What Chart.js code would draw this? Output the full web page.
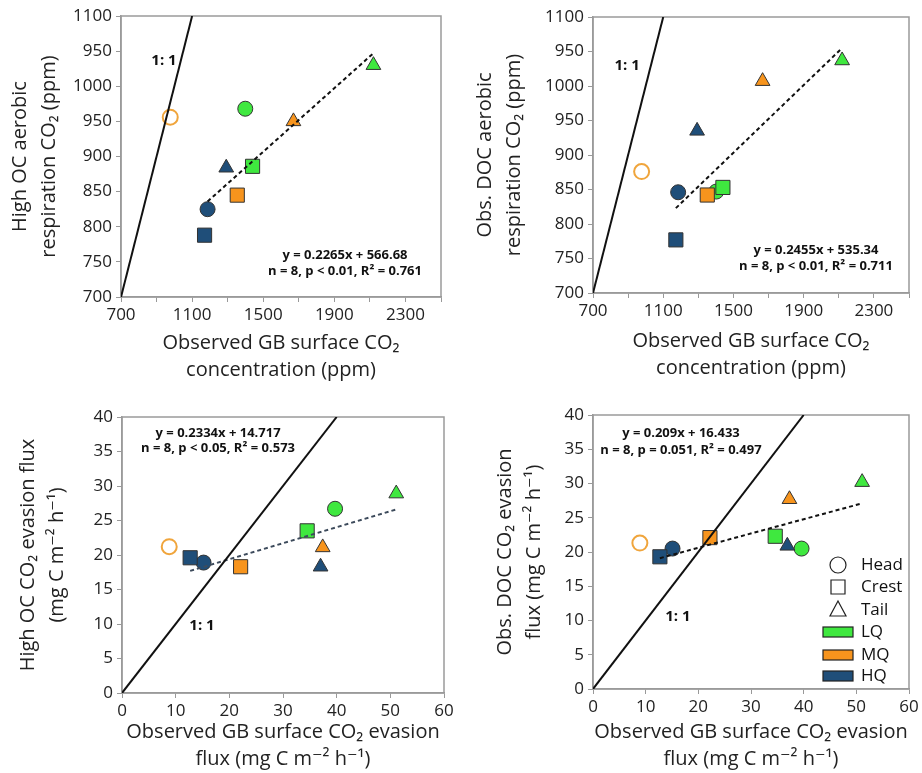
<!DOCTYPE html>
<html>
<head>
<meta charset="utf-8">
<script src="https://cdn.jsdelivr.net/npm/chart.js@4.4.0/dist/chart.umd.min.js"></script>
<style>
  html, body { margin: 0; padding: 0; background: #fff; }
  #wrap { position: relative; width: 922px; height: 773px; }
  #wrap canvas { position: absolute; }
</style>
</head>
<body>
<div id="wrap">
  <canvas id="cA" width="461" height="388" style="left:0;top:0"></canvas>
  <canvas id="cB" width="461" height="388" style="left:461px;top:0"></canvas>
  <canvas id="cC" width="461" height="385" style="left:0;top:388px"></canvas>
  <canvas id="cD" width="461" height="385" style="left:461px;top:388px"></canvas>
</div>
<script>
// orden de puntos: LQ Head, LQ Crest, LQ Tail, MQ Head, MQ Crest, MQ Tail, HQ Head, HQ Crest, HQ Tail
const siteNames = ['Head', 'Crest', 'Tail'];
const qualityNames = ['LQ', 'MQ', 'HQ'];
const pointSite = [0, 1, 2, 0, 1, 2, 0, 1, 2];
const pointQuality = [0, 0, 0, 1, 1, 1, 2, 2, 2];
const openPoint = 3; // MQ Head, fuera de la regresion

// observado GB superficie CO2 (ppm) vs High OC
const concObsA = [1399, 1440, 2120, 977, 1354, 1670, 1187, 1170, 1292];
const concHighOC = [968, 886, 1030, 956, 845, 950, 825, 788, 884];
// observado vs Obs. DOC
const concObsB = [1402, 1440, 2119, 977, 1351, 1666, 1185, 1172, 1293];
const concObsDOC = [847, 853, 1037, 876, 842, 1007, 846, 777, 935];
// flujos (mg C m-2 h-1)
const fluxObsC = [39.7, 34.5, 51.1, 8.8, 22.1, 37.4, 15.2, 12.7, 37.0];
const fluxHighOC = [26.7, 23.5, 28.9, 21.2, 18.3, 21.1, 18.9, 19.6, 18.3];
const fluxObsD = [39.6, 34.6, 51.1, 8.9, 22.2, 37.3, 15.1, 12.7, 36.9];
const fluxObsDOC = [20.5, 22.3, 30.2, 21.3, 22.1, 27.7, 20.5, 19.3, 20.9];

// rectas de ajuste (extremos)
const trendA = { x: [1187, 2120], y: [836, 1047] };
const trendB = { x: [1172, 2119], y: [823, 1055] };
const trendC = { x: [12.7, 51.1], y: [17.7, 26.6] };
const trendD = { x: [12.7, 51.1], y: [19.1, 27.1] };
const oneToOneConc = [700, 1100];
const oneToOneFlux = [0, 40];

// etiquetas de ejes
const concXLabels = ['700', '', '1100', '', '1500', '', '1900', '', '2300', ''];
const concYLabels = ['700', '750', '800', '850', '900', '950', '1000', '950', '1100'];
const fluxXLabels = ['0', '10', '20', '30', '40', '50', '60'];
const fluxYLabels = ['0', '5', '10', '15', '20', '25', '30', '35', '40'];

const eqA = ['y = 0.2265x + 566.68', 'n = 8, p < 0.01, R\u00b2 = 0.761'];
const eqB = ['y = 0.2455x + 535.34', 'n = 8, p < 0.01, R\u00b2 = 0.711'];
const eqC = ['y = 0.2334x + 14.717', 'n = 8, p < 0.05, R\u00b2 = 0.573'];
const eqD = ['y = 0.209x + 16.433', 'n = 8, p = 0.051, R\u00b2 = 0.497'];

const qColors = ['#3fe83f', '#f7941d', '#1f4e79'];
const FONT = '"Open Sans", "DejaVu Sans", sans-serif';
Chart.defaults.font.family = FONT;
Chart.defaults.color = '#222';

const extras = {
    id: 'extras',
    beforeDatasetsDraw(chart) {
        const { ctx, chartArea: a } = chart;
        ctx.save();
        ctx.strokeStyle = '#9a9a9a';
        ctx.lineWidth = 1.5;
        ctx.strokeRect(a.left, a.top, a.right - a.left, a.bottom - a.top);
        ctx.restore();
    },
    afterDraw(chart, args, o) {
        const { ctx, chartArea: a, scales: { x, y } } = chart;
        ctx.save();
        ctx.fillStyle = '#111';
        ctx.textAlign = 'center';
        ctx.textBaseline = 'middle';
        ctx.font = 'bold 13px ' + FONT;
        o.eq.forEach((t, i) => ctx.fillText(t, x.getPixelForValue(o.eqX), y.getPixelForValue(o.eqY[i])));
        ctx.font = 'bold 15px ' + FONT;
        ctx.fillText('1: 1', x.getPixelForValue(o.oneAt[0]), y.getPixelForValue(o.oneAt[1]));
        if (o.legend) {
            const sx = a.right - 71, tx = a.right - 48;
            const rows = [124, 102, 79, 57, 34, 13].map(d => a.bottom - d);
            ctx.textAlign = 'left';
            ctx.font = '17px ' + FONT;
            ctx.strokeStyle = '#222';
            ctx.lineWidth = 1.2;
            siteNames.forEach((n, i) => {
                const cy = rows[i];
                ctx.beginPath();
                if (i === 0) ctx.arc(sx, cy, 8, 0, Math.PI * 2);
                else if (i === 1) ctx.rect(sx - 7, cy - 7, 14, 14);
                else { ctx.moveTo(sx, cy - 9); ctx.lineTo(sx + 8, cy + 6); ctx.lineTo(sx - 8, cy + 6); ctx.closePath(); }
                ctx.stroke();
                ctx.fillText(n, tx, cy);
            });
            qualityNames.forEach((n, i) => {
                const cy = rows[3 + i];
                ctx.fillStyle = qColors[i];
                ctx.fillRect(sx - 15, cy - 5, 30, 10);
                ctx.strokeRect(sx - 15, cy - 5, 30, 10);
                ctx.fillStyle = '#111';
                ctx.fillText(n, tx, cy);
            });
        }
        ctx.restore();
    }
};

function makePanel(id, p) {
    const pts = p.xs.map((x, i) => ({ x, y: p.ys[i] }));
    const shapes = pointSite.map(s => ['circle', 'rect', 'triangle'][s]);
    const radii = pointSite.map(s => [7.5, 10, 8.5][s]);
    const fills = pointQuality.map((q, i) => i === openPoint ? 'rgba(255,255,255,0)' : qColors[q]);
    const borders = pointQuality.map((q, i) => i === openPoint ? '#f0a53c' : '#333');
    const bw = pointQuality.map((q, i) => i === openPoint ? 2 : 1);
    const tickFont = { size: 17 };
    new Chart(document.getElementById(id), {
        type: 'scatter',
        data: {
            datasets: [
                {
                    data: p.one.map(v => ({ x: v, y: v })), showLine: true, pointRadius: 0,
                    borderColor: '#111', borderWidth: 2, order: 0
                },
                {
                    data: p.trend.x.map((v, i) => ({ x: v, y: p.trend.y[i] })), showLine: true, pointRadius: 0,
                    borderColor: p.trendColor, borderWidth: 2, borderDash: [4, 3], order: 0
                },
                {
                    data: pts, pointStyle: shapes, pointRadius: radii, pointHoverRadius: radii,
                    backgroundColor: fills, borderColor: borders, borderWidth: bw, order: 1
                }
            ]
        },
        options: {
            responsive: false,
            animation: false,
            layout: { padding: { left: 0, top: p.g.padTop, right: p.g.padRight, bottom: 0 } },
            plugins: {
                legend: { display: false }, tooltip: { enabled: false },
                extras: { eq: p.eq, eqX: p.eqX, eqY: p.eqY, oneAt: p.oneAt, legend: !!p.legend }
            },
            scales: {
                x: {
                    type: 'linear', min: p.xMin, max: p.xMax,
                    ticks: { stepSize: p.xStep, autoSkip: false, maxRotation: 0, font: tickFont, color: '#222', padding: 3, callback: (v, i) => p.xLabels[i] },
                    grid: { drawOnChartArea: false, drawTicks: true, tickLength: 5, color: '#999' },
                    border: { color: '#9a9a9a', width: 1.5 },
                    title: { display: true, text: p.xTitle, color: '#222', font: { size: 20, lineHeight: 1.35 }, padding: { top: 0, bottom: p.g.xTitlePad } },
                    afterFit: s => { s.height = p.g.xH; }
                },
                y: {
                    type: 'linear', min: p.yMin, max: p.yMax,
                    ticks: { stepSize: p.yStep, autoSkip: false, font: tickFont, color: '#222', padding: 4, callback: (v, i) => p.yLabels[i] },
                    grid: { drawOnChartArea: false, drawTicks: true, tickLength: 5, color: '#999' },
                    border: { color: '#9a9a9a', width: 1.5 },
                    title: { display: true, text: p.yTitle, color: '#222', font: { size: 20, lineHeight: 1.45 }, padding: { top: p.g.yTitlePad, bottom: 0 } },
                    afterFit: s => { s.width = p.g.yW; }
                }
            }
        },
        plugins: [extras]
    });
}

const concAxis = { xMin: 700, xMax: 2500, xStep: 200, yMin: 700, yMax: 1100, yStep: 50, xLabels: concXLabels, yLabels: concYLabels, one: oneToOneConc, xTitle: ['Observed GB surface CO\u2082', 'concentration (ppm)'] };
const fluxAxis = { xMin: 0, xMax: 60, xStep: 10, yMin: 0, yMax: 40, yStep: 5, xLabels: fluxXLabels, yLabels: fluxYLabels, one: oneToOneFlux, xTitle: ['Observed GB surface CO\u2082 evasion', 'flux (mg C m\u207b\u00b2 h\u207b\u00b9)'] };

makePanel('cA', Object.assign({}, concAxis, {
    xs: concObsA, ys: concHighOC, trend: trendA, trendColor: '#111', eq: eqA, eqX: 1960, eqY: [760, 736], oneAt: [942, 1036],
    yTitle: ['High OC aerobic', 'respiration CO\u2082 (ppm)'],
    g: { padTop: 16, padRight: 20, yW: 121, xH: 91, xTitlePad: 4, yTitlePad: 6 }
}));
makePanel('cB', Object.assign({}, concAxis, {
    xs: concObsB, ys: concObsDOC, trend: trendB, trendColor: '#111', eq: eqB, eqX: 1970, eqY: [762, 738], oneAt: [894, 1029],
    yTitle: ['Obs. DOC aerobic', 'respiration CO\u2082 (ppm)'],
    g: { padTop: 17, padRight: 13, yW: 132, xH: 95, xTitlePad: 6, yTitlePad: 10 }
}));
makePanel('cC', Object.assign({}, fluxAxis, {
    xs: fluxObsC, ys: fluxHighOC, trend: trendC, trendColor: '#3d4b5c', eq: eqC, eqX: 17.9, eqY: [37.7, 35.4], oneAt: [14.9, 9.7],
    yTitle: ['High OC CO\u2082 evasion flux', '(mg C m\u207b\u00b2 h\u207b\u00b9)'],
    g: { padTop: 29, padRight: 17, yW: 122, xH: 80, xTitlePad: 0, yTitlePad: 14 }
}));
makePanel('cD', Object.assign({}, fluxAxis, {
    xs: fluxObsD, ys: fluxObsDOC, trend: trendD, trendColor: '#111', eq: eqD, eqX: 16.7, eqY: [37.4, 34.8], oneAt: [16.1, 10.5],
    yTitle: ['Obs. DOC CO\u2082 evasion', 'flux (mg C m\u207b\u00b2 h\u207b\u00b9)'], legend: true,
    g: { padTop: 27, padRight: 13, yW: 132, xH: 84, xTitlePad: 0, yTitlePad: 30 }
}));
</script>
</body>
</html>
